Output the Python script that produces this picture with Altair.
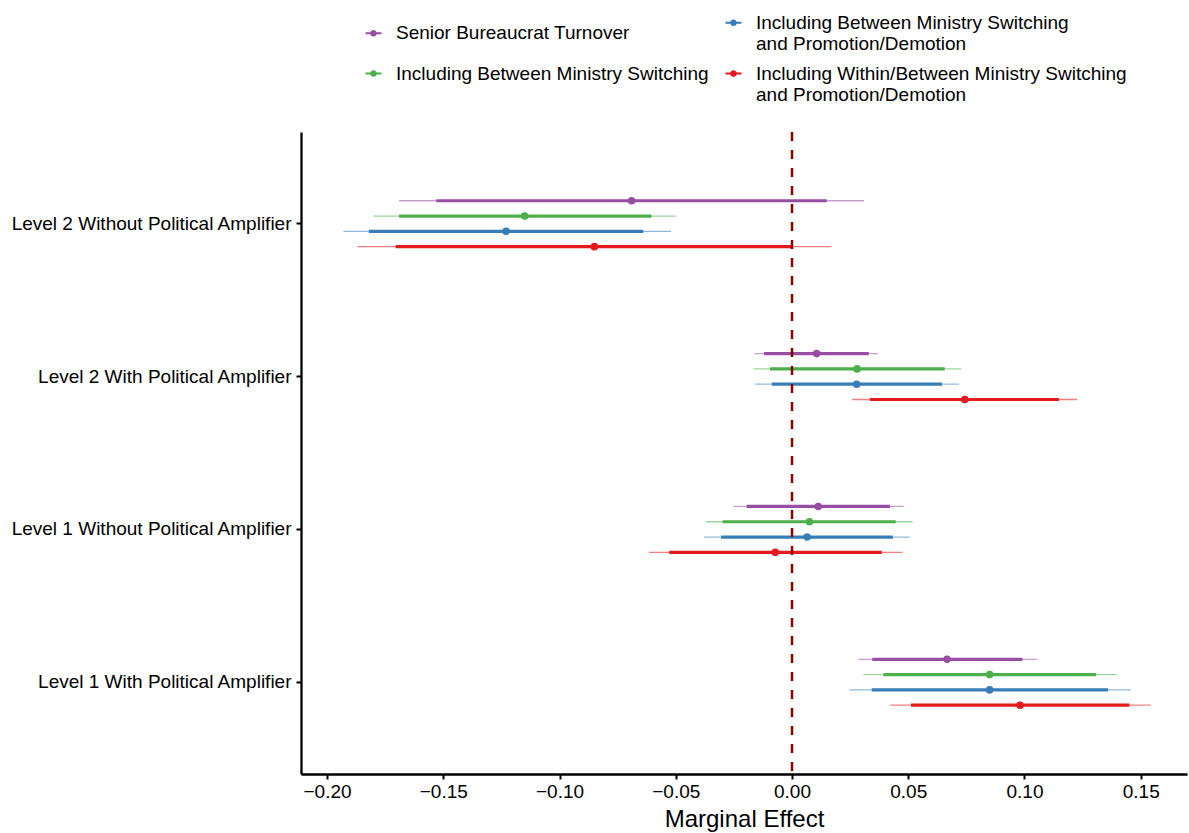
import altair as alt
import pandas as pd

levels = [
    "Level 2 Without Political Amplifier",
    "Level 2 With Political Amplifier",
    "Level 1 Without Political Amplifier",
    "Level 1 With Political Amplifier",
]
series = [
    "Senior Bureaucrat Turnover",
    "Including Between Ministry Switching",
    "Including Between Ministry Switching\n\u00a0and Promotion/Demotion",
    "Including Within/Between Ministry Switching\n\u00a0and Promotion/Demotion",
]
colors = ["#984EA3", "#4DAF4A", "#377EB8", "#E41A1C"]

# values per level, per series (purple, green, blue, red)
lo95 = [
    [-0.169, -0.180, -0.193, -0.187],
    [-0.016, -0.0166, -0.0158, 0.0259],
    [-0.0252, -0.037, -0.0378, -0.0615],
    [0.0285, 0.0307, 0.0247, 0.0422],
]
lo90 = [
    [-0.153, -0.169, -0.182, -0.1705],
    [-0.012, -0.0095, -0.0087, 0.0335],
    [-0.0195, -0.0298, -0.0305, -0.0528],
    [0.0345, 0.0393, 0.0343, 0.0512],
]
est = [
    [-0.069, -0.115, -0.123, -0.085],
    [0.0106, 0.028, 0.0278, 0.0743],
    [0.0113, 0.0075, 0.0065, -0.0072],
    [0.0667, 0.085, 0.085, 0.0981],
]
hi90 = [
    [0.015, -0.0605, -0.064, 0.000],
    [0.033, 0.0657, 0.0645, 0.1148],
    [0.0421, 0.0446, 0.0434, 0.0386],
    [0.0991, 0.1308, 0.1359, 0.1451],
]
hi95 = [
    [0.031, -0.050, -0.052, 0.017],
    [0.037, 0.0727, 0.0717, 0.1227],
    [0.048, 0.0519, 0.0506, 0.0476],
    [0.1054, 0.1397, 0.1457, 0.1543],
]
x_ticks = [-0.20, -0.15, -0.10, -0.05, 0.00, 0.05, 0.10, 0.15]

rows = []
for i, lv in enumerate(levels):
    for j, s in enumerate(series):
        rows.append(dict(level=lv, series=s, lo95=lo95[i][j], lo90=lo90[i][j],
                         est=est[i][j], hi90=hi90[i][j], hi95=hi95[i][j]))
df = pd.DataFrame(rows)

FONT = "Liberation Sans"

yenc = alt.Y("level:N", sort=levels,
             scale=alt.Scale(paddingInner=0, paddingOuter=0.1),
             axis=alt.Axis(title=None, bandPosition=0.5, labelFontSize=19,
                           labelPadding=5, tickSize=5, tickWidth=2, labelLimit=500,
                           domainWidth=2.3, domainColor="black",
                           tickColor="black", labelColor="black", labelFont=FONT))
yoff = alt.YOffset("series:N", sort=series,
                   scale=alt.Scale(paddingInner=0, paddingOuter=0, range=[45.8, 107.0]))
color = alt.Color("series:N",
                  scale=alt.Scale(domain=series, range=colors),
                  legend=alt.Legend(
                      title=None, orient="none", legendX=63, legendY=-119,
                      columns=2, columnPadding=15, rowPadding=10,
                      symbolType="M-1,-0.12L1,-0.12L1,0.12L-1,0.12Z M0.42,0 A0.42,0.42 0 1,1 -0.42,0 A0.42,0.42 0 1,1 0.42,0Z",
                      symbolSize=256, symbolStrokeWidth=0, labelOffset=13,
                      labelFontSize=19, labelFont=FONT, labelColor="black",
                      labelLimit=700, padding=0,
                      labelExpr="split(datum.label, '\\n')"))
xenc = alt.X("est:Q",
             scale=alt.Scale(domain=[-0.2112, 0.1699], nice=False, zero=False),
             axis=alt.Axis(title="Marginal Effect", values=x_ticks, format=".2f",
                           labelFontSize=19, labelPadding=3, tickSize=5, tickWidth=2,
                           domainWidth=2.3, domainColor="black", tickColor="black",
                           labelColor="black", labelFont=FONT, titleFont=FONT,
                           titleFontSize=24, titleFontWeight="normal",
                           titleColor="black", titlePadding=6, grid=False))

base = alt.Chart(df)

points = base.mark_point(filled=True, size=58, opacity=1).encode(
    x=xenc, y=yenc, yOffset=yoff, color=color)
thin = base.mark_rule(strokeWidth=1.3, opacity=0.55).encode(
    x=alt.X("lo95:Q"), x2="hi95:Q", y=yenc, yOffset=yoff, color=color)
thick = base.mark_rule(strokeWidth=3.2, opacity=1).encode(
    x=alt.X("lo90:Q"), x2="hi90:Q", y=yenc, yOffset=yoff, color=color)
zero = alt.Chart(pd.DataFrame({"z": [0.0]})).mark_rule(
    color="#8B0000", strokeDash=[9, 9], strokeWidth=2.5).encode(x="z:Q")

chart = alt.layer(points, thin, thick, zero).properties(
    width=886, height=642,
    autosize=alt.AutoSizeParams(type="none"),
    padding={"left": 301, "top": 132, "right": 2, "bottom": 59},
    background="white",
).configure_view(stroke=None).configure_axis(grid=False)

chart.save("out.html", embed_options={"renderer": "svg", "actions": False})
